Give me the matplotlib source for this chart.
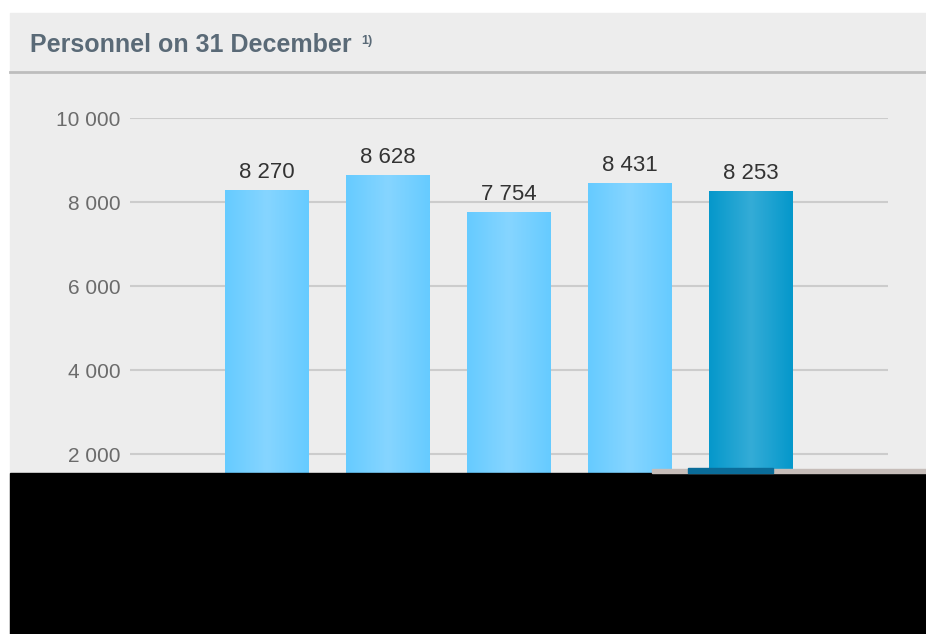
import matplotlib
matplotlib.use("Agg")
import matplotlib.pyplot as plt
import numpy as np
from matplotlib.colors import LinearSegmentedColormap
from matplotlib.patches import Rectangle

plt.rcParams['font.family'] = ['Liberation Sans', 'DejaVu Sans']

# personnel headcount per year, last bar is the current year
values = [8270, 8628, 7754, 8431, 8253]
labels = ['8 270', '8 628', '7 754', '8 431', '8 253']
yticks = [2000, 4000, 6000, 8000, 10000]
yticklabels = ['2 000', '4 000', '6 000', '8 000', '10 000']

W, H = 926, 634
fig = plt.figure(figsize=(W / 100, H / 100), dpi=100)
fig.patch.set_facecolor('white')


def fx(px):
    return px / W


def fy(py):
    return 1 - py / H


# grey panel with title bar
fig.add_artist(Rectangle((fx(10), fy(634)), fx(916), (634 - 13) / H,
                         transform=fig.transFigure, color='#ededed', zorder=0))
fig.add_artist(plt.Line2D([fx(10), fx(926)], [fy(72), fy(72)],
                          transform=fig.transFigure, color='#bdbdbd', lw=2))
fig.text(fx(30), fy(45), 'Personnel on 31 December', fontsize=18,
         fontweight='bold', color='#5a6a77', va='center', ha='left')
fig.text(fx(361), fy(41), '1)', fontsize=9, fontweight='bold',
         color='#5a6a77', va='center', ha='left')

ax = fig.add_axes([fx(130), fy(538), fx(888 - 130), (538 - 118) / H])
ax.set_facecolor('none')

light = LinearSegmentedColormap.from_list('light', ['#66cbff', '#86d5ff', '#66cbff'])
dark = LinearSegmentedColormap.from_list('dark', ['#0598cb', '#34acd7', '#0598cb'])
grad = np.linspace(0, 1, 64).reshape(1, -1)

w = 0.694
x = np.arange(len(values))
for i, v in enumerate(values):
    cmap = dark if i == len(values) - 1 else light
    ax.imshow(grad, cmap=cmap, extent=(x[i] - w / 2, x[i] + w / 2, 0, v),
              aspect='auto', zorder=2)
    ax.text(x[i], v + 185, labels[i], ha='center', va='bottom',
            fontsize=16, color='#333333', zorder=3)

ax.set_xlim(-1.132, len(values) + 0.132)
ax.set_ylim(0, 10000)
ax.set_yticks(yticks)
ax.set_yticklabels(yticklabels, fontsize=15, color='#6b6b6b')
ax.set_xticks([])
ax.tick_params(axis='y', length=0, pad=7)
ax.grid(axis='y', color='#cccccc', lw=1.5, zorder=1)
ax.set_axisbelow(True)
for s in ax.spines.values():
    s.set_visible(False)

# black block over the lower part of the panel
fig.add_artist(Rectangle((fx(10), fy(634)), fx(916), (634 - 473) / H,
                         transform=fig.transFigure, color='black', zorder=10))
fig.add_artist(Rectangle((fx(652), fy(473)), fx(926 - 652), 4 / H,
                         transform=fig.transFigure, color='#c6bdb9', zorder=10))
fig.add_artist(Rectangle((fx(688), fy(473)), fx(773 - 688), 5 / H,
                         transform=fig.transFigure, color='#0a6c99', zorder=11))

fig.savefig('out.png', dpi=100)
